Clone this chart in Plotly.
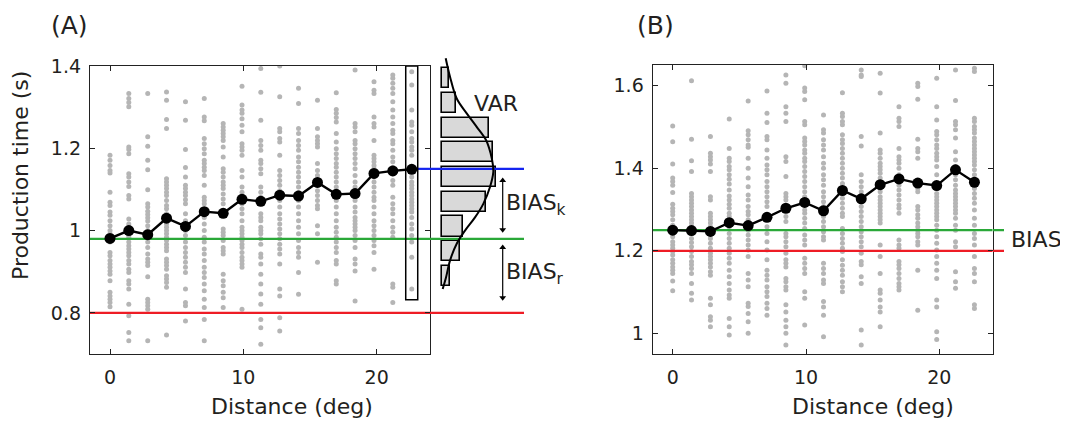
import plotly.graph_objects as go

W, H = 1068, 423

# ---------------- data ----------------
distances = [0, 1.41, 2.83, 4.24, 5.66, 7.07, 8.49, 9.9, 11.31, 12.73, 14.14,
             15.56, 16.97, 18.38, 19.8, 21.21, 22.63]

mean_A = [0.981, 1.0, 0.99, 1.03, 1.01, 1.046, 1.042, 1.076, 1.071, 1.086, 1.084,
          1.117, 1.088, 1.09, 1.139, 1.145, 1.149]
mean_B = [1.250, 1.249, 1.247, 1.268, 1.261, 1.281, 1.303, 1.317, 1.297, 1.346, 1.326,
          1.360, 1.374, 1.364, 1.358, 1.396, 1.366]

trials_A = [
    [1.183, 1.171, 1.158, 1.146, 1.140, 1.093, 1.069, 1.061, 1.045, 1.037, 1.024, 1.012, 1.0, 0.992, 0.980,
     0.972, 0.947, 0.939, 0.927, 0.919, 0.911, 0.902, 0.894, 0.878, 0.850, 0.841, 0.833, 0.825, 0.815],
    [1.333, 1.321, 1.311, 1.301, 1.203, 1.197, 1.187, 1.138, 1.130, 1.118, 1.107, 1.085, 1.077, 1.028, 1.016,
     1.004, 0.992, 0.984, 0.972, 0.963, 0.955, 0.947, 0.939, 0.927, 0.919, 0.906, 0.898, 0.878, 0.870, 0.858,
     0.821, 0.793, 0.752, 0.732],
    [1.333, 1.228, 1.205, 1.171, 1.148, 1.099, 1.065, 1.057, 1.047, 1.039, 1.031, 1.023, 1.012, 1.0, 0.984,
     0.972, 0.959, 0.943, 0.931, 0.923, 0.915, 0.888, 0.833, 0.825, 0.817, 0.809, 0.732],
    [1.337, 1.317, 1.270, 1.248, 1.126, 1.118, 1.110, 1.102, 1.093, 1.085, 1.073, 1.061, 1.053, 1.041, 1.032,
     1.024, 1.016, 1.008, 1.0, 0.992, 0.984, 0.976, 0.967, 0.959, 0.951, 0.931, 0.923, 0.915, 0.906, 0.890,
     0.882, 0.874, 0.862, 0.746],
    [1.313, 1.268, 1.197, 1.153, 1.130, 1.110, 1.102, 1.093, 1.085, 1.075, 1.065, 1.041, 1.024, 1.008, 1.0,
     0.988, 0.972, 0.959, 0.947, 0.935, 0.923, 0.911, 0.898, 0.858, 0.825, 0.817, 0.780],
    [1.321, 1.276, 1.267, 1.224, 1.211, 1.199, 1.187, 1.171, 1.163, 1.154, 1.146, 1.134, 1.110, 1.081, 1.073,
     1.065, 1.049, 1.032, 1.016, 1.0, 0.984, 0.972, 0.955, 0.943, 0.927, 0.911, 0.898, 0.886, 0.870, 0.854,
     0.833, 0.813, 0.784, 0.732],
    [1.260, 1.252, 1.244, 1.236, 1.228, 1.219, 1.203, 1.179, 1.150, 1.142, 1.130, 1.118, 1.110, 1.102, 1.089,
     1.077, 1.065, 1.041, 1.004, 0.996, 0.988, 0.976, 0.959, 0.951, 0.943, 0.894, 0.878, 0.866, 0.850, 0.837,
     0.813],
    [1.351, 1.305, 1.293, 1.285, 1.272, 1.256, 1.240, 1.211, 1.203, 1.195, 1.183, 1.146, 1.130, 1.106, 1.093,
     1.081, 1.065, 1.053, 1.041, 1.024, 1.008, 1.0, 0.992, 0.984, 0.976, 0.967, 0.959, 0.947, 0.935, 0.927,
     0.919, 0.911, 0.809],
    [1.394, 1.336, 1.268, 1.219, 1.207, 1.195, 1.171, 1.163, 1.150, 1.138, 1.106, 1.093, 1.081, 1.065, 1.041,
     1.032, 1.024, 1.008, 1.0, 0.992, 0.980, 0.967, 0.943, 0.935, 0.919, 0.894, 0.870, 0.846, 0.821, 0.784,
     0.764, 0.724],
    [1.400, 1.325, 1.248, 1.240, 1.224, 1.215, 1.183, 1.146, 1.134, 1.122, 1.110, 1.097, 1.081, 1.073, 1.057,
     1.041, 1.028, 1.016, 1.004, 0.992, 0.980, 0.967, 0.955, 0.943, 0.919, 0.858, 0.841, 0.788, 0.756],
    [1.346, 1.309, 1.248, 1.236, 1.219, 1.207, 1.195, 1.179, 1.167, 1.154, 1.142, 1.130, 1.118, 1.106, 1.093,
     1.073, 1.057, 1.041, 1.024, 1.008, 0.992, 0.976, 0.959, 0.947, 0.935, 0.898, 0.845],
    [1.317, 1.248, 1.228, 1.219, 1.211, 1.203, 1.163, 1.146, 1.134, 1.122, 1.110, 1.097, 1.085, 1.073, 1.061,
     1.053, 1.012, 0.992, 0.923],
    [1.335, 1.294, 1.285, 1.275, 1.264, 1.236, 1.215, 1.199, 1.187, 1.175, 1.163, 1.154, 1.142, 1.130, 1.118,
     1.106, 1.089, 1.073, 1.057, 1.041, 1.024, 1.008, 0.996, 0.984, 0.972, 0.959, 0.947, 0.927, 0.919, 0.878,
     0.870],
    [1.390, 1.260, 1.252, 1.240, 1.219, 1.211, 1.199, 1.187, 1.175, 1.163, 1.150, 1.134, 1.118, 1.106, 1.093,
     1.081, 1.073, 1.057, 1.045, 1.032, 1.024, 1.016, 1.008, 1.0, 0.988, 0.976, 0.959, 0.931, 0.919, 0.902,
     0.829],
    [1.362, 1.341, 1.333, 1.276, 1.260, 1.252, 1.219, 1.183, 1.175, 1.167, 1.158, 1.150, 1.130, 1.118, 1.106,
     1.093, 1.081, 1.073, 1.057, 1.041, 1.024, 1.012, 1.0, 0.988, 0.976, 0.963, 0.947, 0.906],
    [1.378, 1.370, 1.358, 1.346, 1.333, 1.313, 1.293, 1.276, 1.260, 1.244, 1.236, 1.219, 1.211, 1.195, 1.179,
     1.167, 1.154, 1.138, 1.122, 1.110, 1.081, 1.065, 1.053, 1.041, 1.024, 1.008, 0.996, 0.984, 0.870, 0.862,
     0.825],
    [1.386, 1.354, 1.293, 1.264, 1.256, 1.240, 1.224, 1.215, 1.203, 1.195, 1.183, 1.154, 1.130, 1.118, 1.110,
     1.102, 1.093, 1.085, 1.077, 1.069, 1.061, 1.053, 1.045, 1.032, 1.016, 1.004, 0.988, 0.972, 0.935, 0.858],
]

trials_B = [
    [1.502, 1.464, 1.410, 1.376, 1.368, 1.359, 1.341, 1.313, 1.303, 1.295, 1.287, 1.275, 1.262, 1.254, 1.242,
     1.234, 1.222, 1.214, 1.206, 1.198, 1.190, 1.178, 1.170, 1.161, 1.153, 1.145, 1.127, 1.103],
    [1.612, 1.470, 1.418, 1.392, 1.339, 1.331, 1.323, 1.315, 1.307, 1.299, 1.291, 1.283, 1.275, 1.267, 1.258,
     1.250, 1.242, 1.230, 1.220, 1.210, 1.198, 1.186, 1.174, 1.166, 1.157, 1.145, 1.121, 1.097, 1.081],
    [1.477, 1.436, 1.428, 1.420, 1.410, 1.392, 1.331, 1.323, 1.291, 1.283, 1.275, 1.267, 1.258, 1.242, 1.230,
     1.218, 1.206, 1.194, 1.186, 1.178, 1.170, 1.161, 1.149, 1.141, 1.085, 1.069, 1.040, 1.032, 1.016],
    [1.519, 1.448, 1.424, 1.416, 1.404, 1.396, 1.384, 1.373, 1.362, 1.347, 1.333, 1.323, 1.313, 1.303, 1.291,
     1.283, 1.275, 1.258, 1.242, 1.230, 1.218, 1.206, 1.194, 1.182, 1.170, 1.153, 1.137, 1.121, 1.105, 1.093,
     1.085, 1.036, 1.016, 0.996],
    [1.563, 1.491, 1.481, 1.469, 1.456, 1.451, 1.424, 1.400, 1.376, 1.355, 1.335, 1.323, 1.307, 1.295, 1.287,
     1.275, 1.262, 1.250, 1.238, 1.226, 1.214, 1.202, 1.186, 1.145, 1.129, 1.113, 1.073, 1.065, 1.048, 1.028,
     1.0],
    [1.587, 1.533, 1.511, 1.477, 1.469, 1.444, 1.424, 1.408, 1.396, 1.384, 1.368, 1.355, 1.343, 1.331, 1.319,
     1.307, 1.283, 1.258, 1.242, 1.222, 1.202, 1.178, 1.153, 1.141, 1.129, 1.113, 1.101, 1.089, 1.073, 1.060,
     1.044],
    [1.626, 1.606, 1.549, 1.533, 1.513, 1.428, 1.416, 1.380, 1.339, 1.331, 1.323, 1.307, 1.283, 1.271, 1.242,
     1.234, 1.222, 1.210, 1.194, 1.178, 1.170, 1.161, 1.133, 1.125, 1.113, 1.105, 1.069, 1.052, 1.032, 1.016,
     1.0, 0.972],
    [1.648, 1.594, 1.586, 1.566, 1.513, 1.505, 1.473, 1.465, 1.456, 1.444, 1.436, 1.424, 1.416, 1.404, 1.392,
     1.380, 1.368, 1.355, 1.343, 1.331, 1.323, 1.311, 1.299, 1.291, 1.279, 1.267, 1.254, 1.238, 1.226, 1.214,
     1.182, 1.170, 1.157, 1.145, 1.101, 1.085, 1.020],
    [1.529, 1.493, 1.485, 1.469, 1.456, 1.444, 1.428, 1.412, 1.400, 1.384, 1.372, 1.359, 1.343, 1.331, 1.319,
     1.307, 1.295, 1.283, 1.271, 1.258, 1.246, 1.234, 1.226, 1.170, 1.157, 1.145, 1.129, 1.121, 1.077, 1.064,
     1.044, 0.992],
    [1.583, 1.533, 1.525, 1.513, 1.505, 1.481, 1.469, 1.460, 1.448, 1.436, 1.424, 1.412, 1.400, 1.388, 1.376,
     1.363, 1.351, 1.339, 1.327, 1.315, 1.303, 1.291, 1.283, 1.254, 1.242, 1.230, 1.218, 1.206, 1.198, 1.178,
     1.165, 1.153, 1.141, 1.125, 1.113, 1.101],
    [1.638, 1.626, 1.622, 1.477, 1.454, 1.384, 1.368, 1.355, 1.343, 1.331, 1.319, 1.307, 1.295, 1.283, 1.271,
     1.258, 1.246, 1.234, 1.222, 1.210, 1.194, 1.174, 1.166, 1.137, 1.121, 1.008, 0.972],
    [1.630, 1.582, 1.485, 1.444, 1.436, 1.424, 1.412, 1.404, 1.396, 1.388, 1.376, 1.363, 1.351, 1.343, 1.331,
     1.323, 1.315, 1.307, 1.299, 1.291, 1.283, 1.275, 1.267, 1.214, 1.186, 1.145, 1.105, 1.097, 1.081, 1.064,
     1.052, 1.016],
    [1.549, 1.521, 1.513, 1.501, 1.448, 1.428, 1.420, 1.412, 1.400, 1.384, 1.372, 1.359, 1.347, 1.335, 1.323,
     1.311, 1.303, 1.291, 1.226, 1.214, 1.206, 1.174, 1.166, 1.157, 1.145, 1.133, 1.121, 1.113, 1.105],
    [1.606, 1.598, 1.567, 1.470, 1.448, 1.440, 1.424, 1.351, 1.343, 1.307, 1.299, 1.287, 1.279, 1.267, 1.258,
     1.250, 1.242, 1.234, 1.222, 1.214, 1.153, 1.056],
    [1.618, 1.549, 1.517, 1.489, 1.481, 1.469, 1.456, 1.448, 1.436, 1.428, 1.420, 1.404, 1.384, 1.351, 1.339,
     1.331, 1.323, 1.315, 1.307, 1.299, 1.291, 1.283, 1.275, 1.262, 1.250, 1.234, 1.218, 1.202, 1.186, 1.170,
     1.153, 1.133, 1.081, 1.064, 1.004, 0.985],
    [1.638, 1.564, 1.513, 1.505, 1.493, 1.473, 1.440, 1.420, 1.404, 1.392, 1.384, 1.372, 1.359, 1.347, 1.339,
     1.331, 1.323, 1.315, 1.307, 1.299, 1.291, 1.279, 1.262, 1.250, 1.222, 1.210, 1.149, 1.125, 1.109],
    [1.642, 1.634, 1.521, 1.513, 1.501, 1.493, 1.485, 1.473, 1.465, 1.456, 1.448, 1.440, 1.432, 1.424, 1.416,
     1.408, 1.396, 1.384, 1.368, 1.351, 1.339, 1.327, 1.315, 1.299, 1.279, 1.262, 1.242, 1.230, 1.214, 1.186,
     1.157, 1.145, 1.125, 1.069, 1.060],
]

# reference levels
ref_A = 0.8          # red
prior_mean_A = 0.98  # green
last_mean_A = 1.15   # blue
ref_B = 1.2          # red
prior_mean_B = 1.25  # green

# histogram of the last column (counts in arbitrary units) and fitted curve
hist_centers = [1.37, 1.31, 1.25, 1.19, 1.13, 1.07, 1.01, 0.95, 0.89]
hist_counts = [7, 14, 47, 51, 54, 44, 21, 18, 8]
curve_y = [1.419, 1.374, 1.321, 1.285, 1.252, 1.220, 1.187, 1.163, 1.142, 1.106, 1.065,
           1.032, 1.0, 0.968, 0.927, 0.886, 0.858]
curve_x = [3.7, 8, 14.7, 24.7, 34.7, 44, 48.7, 50.7, 51.3, 48, 41.3, 33, 23, 14.7, 8, 4, 0.7]

# bias arrows (y-extent) on the histogram side
bias_k = [1.122, 1.002]
bias_r = [0.959, 0.837]

x_ticks = [0, 10, 20]
yA_ticks = [0.8, 1.0, 1.2, 1.4]
yA_text = ["0.8", "1", "1.2", "1.4"]
yB_ticks = [1.0, 1.2, 1.4, 1.6]
yB_text = ["1", "1.2", "1.4", "1.6"]

# ---------------- style ----------------
FONT = "DejaVu Sans"
TXT = "#231f20"
GRAY = "#b5b5b5"
RED = "#ee1c25"
GREEN = "#2aa838"
BLUE = "#1424f0"

xr = [-1.5, 24]
yA_range = [0.7, 1.4]
yB_range = [0.95, 1.65]

OFF = 8  # page body margin


def px_x(p):
    return (p - OFF) / W


def px_y(p):
    return 1 - (p - OFF) / H


fig = go.Figure()


def scatter_cloud(xaxis, yaxis, trials):
    xs, ys = [], []
    for d, col in zip(distances, trials):
        xs += [d] * len(col)
        ys += col
    fig.add_trace(go.Scatter(x=xs, y=ys, mode="markers", xaxis=xaxis, yaxis=yaxis,
                             marker=dict(color=GRAY, size=5), hoverinfo="skip"))


def hline(xaxis, yaxis, xs, y, color):
    fig.add_trace(go.Scatter(x=xs, y=[y, y], mode="lines", xaxis=xaxis, yaxis=yaxis,
                             line=dict(color=color, width=2.2), hoverinfo="skip"))


# ---- panel A ----
scatter_cloud("x", "y", trials_A)
hline("x", "y", xr, ref_A, RED)
hline("x", "y", xr, prior_mean_A, GREEN)
hline("x", "y", [distances[-1], xr[1]], last_mean_A, BLUE)
fig.add_trace(go.Scatter(x=distances, y=mean_A, mode="lines+markers", xaxis="x", yaxis="y",
                         line=dict(color="black", width=2.4), marker=dict(color="black", size=11)))

# histogram side (x3/y3)
hist_x_end = 82
hline("x3", "y3", [-12, hist_x_end], ref_A, RED)
hline("x3", "y3", [-12, hist_x_end], prior_mean_A, GREEN)
hline("x3", "y3", [-12, hist_x_end], last_mean_A, BLUE)
fig.add_trace(go.Bar(y=hist_centers, x=hist_counts, orientation="h", xaxis="x3", yaxis="y3",
                     width=0.049, marker=dict(color="#d9d9d9", line=dict(color="black", width=1.6))))
fig.add_trace(go.Scatter(x=curve_x, y=curve_y, mode="lines", xaxis="x3", yaxis="y3",
                         line=dict(color="black", width=2, shape="spline")))
arrow_x = 60.7
for seg in (bias_k, bias_r):
    fig.add_trace(go.Scatter(x=[arrow_x, arrow_x], y=seg, mode="lines+markers", xaxis="x3", yaxis="y3",
                             line=dict(color="black", width=1.2),
                             marker=dict(symbol=["triangle-up", "triangle-down"], size=6, color="black")))

# ---- panel B ----
scatter_cloud("x2", "y2", trials_B)
hline("x2", "y2", xr, ref_B, RED)
hline("x2", "y2", xr, prior_mean_B, GREEN)
fig.add_trace(go.Scatter(x=distances, y=mean_B, mode="lines+markers", xaxis="x2", yaxis="y2",
                         line=dict(color="black", width=2.4), marker=dict(color="black", size=11)))
hline("x4", "y2", [0, 11.3], ref_B, RED)
hline("x4", "y2", [0, 11.3], prior_mean_B, GREEN)

axis_common = dict(showline=True, mirror="ticks", linecolor="#222", linewidth=1.3,
                   ticks="inside", ticklen=5, tickwidth=1.2, tickcolor="#222",
                   showgrid=False, zeroline=False,
                   tickfont=dict(family=FONT, size=19, color=TXT))

fig.update_layout(
    width=W, height=H, margin=dict(l=0, r=0, t=0, b=0, autoexpand=False),
    paper_bgcolor="white", plot_bgcolor="rgba(0,0,0,0)", showlegend=False,
    bargap=0,
    xaxis=dict(domain=[px_x(90), px_x(430)], anchor="y", range=xr, tickvals=x_ticks,
               ticklabelstandoff=6, **axis_common),
    yaxis=dict(domain=[px_y(354), px_y(66)], anchor="x", range=yA_range, tickvals=yA_ticks,
               ticktext=yA_text, ticklabelstandoff=4, **axis_common),
    xaxis2=dict(domain=[px_x(652.7), px_x(992.7)], anchor="y2", range=xr, tickvals=x_ticks,
                ticklabelstandoff=6, **axis_common),
    yaxis2=dict(domain=[px_y(354), px_y(65)], anchor="x2", range=yB_range, tickvals=yB_ticks,
                ticktext=yB_text, ticklabelstandoff=4, **axis_common),
    xaxis3=dict(domain=[px_x(430), px_x(560)], anchor="y3", range=[-12, 118], visible=False),
    yaxis3=dict(domain=[px_y(354), px_y(50)], anchor="x3",
                range=[0.7, 0.7 + (354 - 50) * 0.7 / 288], visible=False),
    xaxis4=dict(domain=[px_x(992.7), px_x(1068)], anchor="y2", range=[0, 75.3], visible=False),
)

ann_font = dict(family=FONT, size=22, color=TXT)


def pann(text, x, y, size=22, angle=0):
    return dict(text=text, x=px_x(x), y=px_y(y), xref="paper", yref="paper", showarrow=False,
                xanchor="center", yanchor="middle", textangle=angle,
                font=dict(family=FONT, size=size, color=TXT))


def dann(text, x, y, xref, yref):
    return dict(text=text, x=x, y=y, xref=xref, yref=yref, xanchor="left", yanchor="middle",
                showarrow=False, font=ann_font)


annotations = [
    pann("(A)", 69, 26, size=25),
    pann("(B)", 655, 26, size=25),
    pann("Production time (s)", 20, 176, angle=-90),
    pann("Distance (deg)", 291.5, 406),
    pann("Distance (deg)", 873.3, 406),
    dann("VAR", 29.5, 1.31, "x3", "y3"),
    dann("BIAS<sub>k</sub>", 62, 1.063, "x3", "y3"),
    dann("BIAS<sub>r</sub>", 62, 0.895, "x3", "y3"),
    dann("BIAS<sub>r</sub>", 16, 1.222, "x4", "y2"),
]
fig.update_layout(annotations=annotations)

# selection box around the last column of panel A
fig.add_shape(type="rect", xref="x", yref="y", x0=distances[-1] - 0.45, x1=distances[-1] + 0.45,
              y0=0.832, y1=yA_range[1], line=dict(color="black", width=1.5), layer="above")

fig.write_html("out.html")
